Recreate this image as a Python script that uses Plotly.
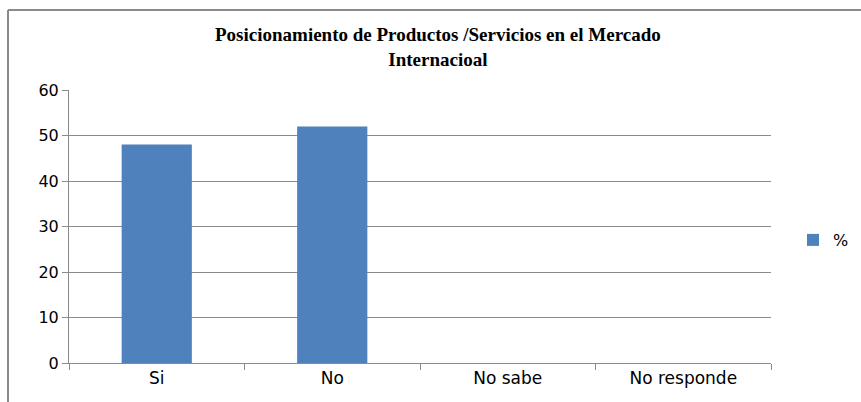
import plotly.graph_objects as go

categories = ["Si", "No", "No sabe", "No responde"]
values = [48, 52, 0, 0]
series_name = "%"
title_text = "Posicionamiento de Productos /Servicios en el Mercado<br>Internacioal"

PL, PT, PW, PH = 69, 90, 702, 273  # plot area in pixels


def px_x(x):
    return (x - PL) / PW


def px_y(y):
    return 1 + (PT - y) / PH


fig = go.Figure()
fig.add_trace(go.Bar(
    x=categories, y=values, name=series_name,
    marker=dict(color="#4F81BD", line=dict(width=0)),
    showlegend=True,
))

fig.update_layout(
    width=861, height=402,
    margin=dict(l=PL, r=861 - PL - PW, t=PT, b=402 - PT - PH, autoexpand=False),
    paper_bgcolor="white", plot_bgcolor="white",
    bargap=0.6,
    showlegend=True,
    legend=dict(x=px_x(793), y=px_y(240), xanchor="left", yanchor="middle",
                font=dict(family="DejaVu Sans, sans-serif", size=16, color="#000"),
                itemwidth=30),
    annotations=[dict(
        text="<b>" + title_text + "</b>", xref="paper", yref="paper",
        x=px_x(438), y=px_y(47), xanchor="center", yanchor="middle",
        showarrow=False, align="center",
        font=dict(family="Liberation Serif, Times New Roman, serif", size=19, color="#000"),
    )],
    shapes=[
        dict(type="line", xref="paper", yref="paper",
             x0=px_x(8), x1=px_x(870), y0=px_y(10), y1=px_y(10),
             line=dict(color="#8a8a8a", width=2)),
        dict(type="line", xref="paper", yref="paper",
             x0=px_x(8), x1=px_x(8), y0=px_y(10), y1=px_y(410),
             line=dict(color="#8a8a8a", width=2)),
    ],
)

fig.update_xaxes(
    type="category", tickson="boundaries", ticks="outside", ticklen=6,
    tickcolor="#8a8a8a", showline=True, linecolor="#8a8a8a", linewidth=1,
    showgrid=False,
    tickfont=dict(family="DejaVu Sans, sans-serif", size=17, color="#000"),
)
fig.update_yaxes(
    range=[0, 60], dtick=10, ticks="outside", ticklen=6, tickcolor="#8a8a8a",
    showline=True, linecolor="#8a8a8a", linewidth=1,
    showgrid=True, gridcolor="#8a8a8a", gridwidth=1, zeroline=False,
    tickfont=dict(family="DejaVu Sans, sans-serif", size=16, color="#000"),
)

fig.write_html(
    "out.html",
    config={"displayModeBar": False, "responsive": False},
    post_script="document.body.style.margin='0';document.body.style.overflow='hidden';",
)
